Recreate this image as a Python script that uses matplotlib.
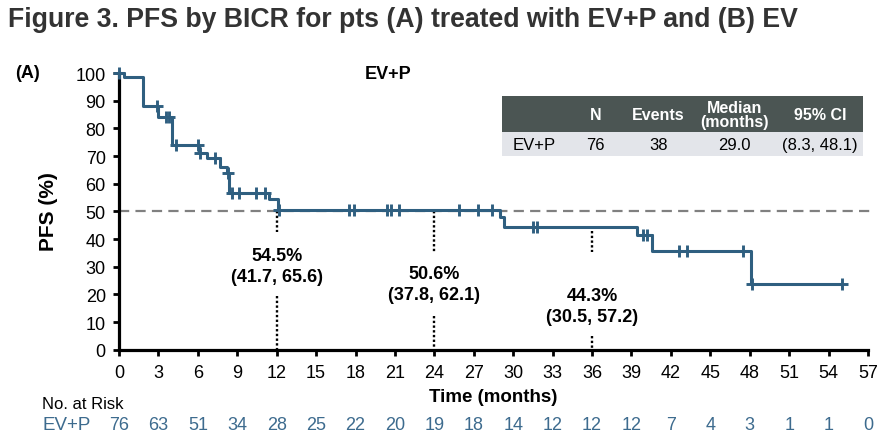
import numpy as np
import matplotlib
matplotlib.use("Agg")
import matplotlib.pyplot as plt

plt.rcParams["font.family"] = ["Liberation Sans", "DejaVu Sans"]

# KM step function (month of drop, PFS % after the drop)
step_months = [0, 0.4, 1.8, 3.0, 4.05, 6.1, 6.7, 7.7, 8.2, 8.4, 11.4, 12.1,
               29.0, 29.3, 39.4, 40.6, 48.1]
step_pfs = [100, 98.7, 88.0, 84.0, 73.8, 71.0, 69.2, 66.2, 64.0, 56.5, 54.5, 50.6,
            48.0, 44.3, 41.5, 35.5, 23.7]
last_followup = 55.0
censor_months = [0, 2.9, 3.6, 3.8, 4.3, 6.0, 6.2, 7.3, 8.3, 8.6, 9.1, 10.4, 11.1,
                 12.2, 17.5, 17.9, 20.4, 20.7, 21.3, 25.9, 27.3, 28.4, 31.5, 31.8,
                 39.9, 40.2, 42.6, 43.2, 47.5, 48.2, 55.0]

# landmark estimates
landmark_months = [12, 24, 36]
landmark_pct = [54.5, 50.6, 44.3]
landmark_ci = [(41.7, 65.6), (37.8, 62.1), (30.5, 57.2)]

# number at risk
risk_months = list(range(0, 58, 3))
at_risk = [76, 63, 51, 34, 28, 25, 22, 20, 19, 18, 14, 12, 12, 12, 7, 4, 3, 1, 1, 0]

# summary table
table_cols = ["", "N", "Events", "Median\n(months)", "95% CI"]
table_row = ["EV+P", "76", "38", "29.0", "(8.3, 48.1)"]

line_col = "#2f5f80"
risk_col = "#3d6b8e"

fig = plt.figure(figsize=(8.77, 4.39), dpi=100)
ax = fig.add_axes([119 / 877, 88.3 / 439, 749 / 877, 276.7 / 439])

# reference line at 50%
ax.plot([0, 57.3], [50, 50], color="#808080", lw=1.6, dashes=(4.6, 2.8), zorder=1,
        clip_on=False)

# KM curve
times = np.array(step_months + [last_followup])
surv = np.array(step_pfs + [step_pfs[-1]])
ax.step(times, surv, where="post", color=line_col, lw=2.2, zorder=3, clip_on=False)

# censor marks
idx = np.searchsorted(step_months, censor_months, side="right") - 1
cens_y = np.array(step_pfs)[idx]
ax.plot(censor_months, cens_y, ls="none", marker="+", ms=9, mew=2.1,
        color=line_col, zorder=4, clip_on=False)

# landmark annotations
upper_seg = [(50.2, 42.6), (50.0, 35.4), (43.0, 35.4)]
lower_top = [19.4, 12.3, 4.8]
pct_y = [34.0, 27.6, 19.5]
for m, p, ci, seg, low, py in zip(landmark_months, landmark_pct, landmark_ci,
                                   upper_seg, lower_top, pct_y):
    ax.plot([m, m], seg, color="black", lw=1.7, ls=(0, (1, 1)), zorder=2)
    ax.plot([m, m], [low, 0], color="black", lw=1.7, ls=(0, (1, 1)), zorder=2)
    ax.text(m, py, f"{p}%", ha="center", va="center", fontsize=13, fontweight="bold")
    ax.text(m, py - 7.6, f"({ci[0]}, {ci[1]})", ha="center", va="center",
            fontsize=13, fontweight="bold")

ax.text(20.5, 100, "EV+P", ha="center", va="center", fontsize=13, fontweight="bold")

# axes styling
ax.set_xlim(0, 57)
ax.set_ylim(0, 100)
ax.set_xticks(risk_months)
ax.set_yticks(range(0, 101, 10))
for s in ["top", "right"]:
    ax.spines[s].set_visible(False)
for s in ["left", "bottom"]:
    ax.spines[s].set_linewidth(2.3)
ax.tick_params(axis="both", direction="out", length=4.5, width=2.0, labelsize=13)
ax.tick_params(axis="y", pad=5)
ax.tick_params(axis="x", pad=6)
ax.set_xlabel("Time (months)", fontsize=13.5, fontweight="bold", labelpad=5)

# summary table
tbl = ax.table(cellText=[table_row], colLabels=table_cols, cellLoc="center",
               colWidths=[65, 57, 69, 84, 86],
               bbox=[0.511, 0.699, 0.482, 0.217])
tbl.auto_set_font_size(False)
for (r, c), cell in tbl.get_celld().items():
    cell.set_linewidth(0)
    if r == 0:
        cell.set_height(36)
        cell.set_facecolor("#4b5553")
        cell.get_text().set_color("white")
        cell.get_text().set_fontweight("bold")
        cell.get_text().set_fontsize(11.5)
        cell.get_text().set_linespacing(0.9)
    else:
        cell.set_height(24)
        cell.set_facecolor("#e3e5ea")
        cell.get_text().set_fontsize(12)

# number at risk
fig.text(42 / 877, 1 - 405 / 439, "No. at Risk", ha="left", va="center", fontsize=12)
fig.text(42 / 877, 1 - 426 / 439, "EV+P", ha="left", va="center", fontsize=13.5,
         color=risk_col)
for m, n in zip(risk_months, at_risk):
    ax.text(m, -(426 - 350.7) / 276.7, str(n), ha="center", va="center", fontsize=13,
            color=risk_col, transform=ax.get_xaxis_transform(), clip_on=False)

fig.text(48 / 877, 1 - 212 / 439, "PFS (%)", rotation=90, ha="center", va="center",
         fontsize=15, fontweight="bold")
fig.text(15 / 877, 1 - 74 / 439, "(A)", ha="left", va="center", fontsize=13,
         fontweight="bold")
fig.text(8 / 877, 1 - 20 / 439,
         "Figure 3. PFS by BICR for pts (A) treated with EV+P and (B) EV",
         ha="left", va="center", fontsize=19.2, fontweight="bold", color="#333333")

fig.savefig("out.png", dpi=100)
